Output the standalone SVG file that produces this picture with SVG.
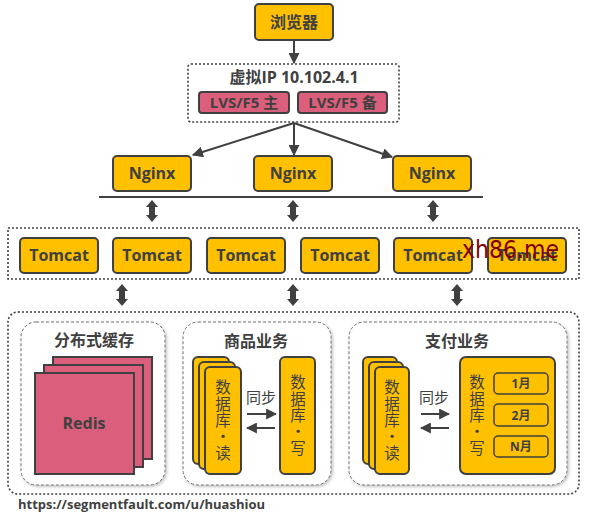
<svg xmlns="http://www.w3.org/2000/svg" width="589" height="515" viewBox="0 0 589 515">
<defs>
<style>
.y{fill:#FFC000;stroke:#404040;stroke-width:2}
.p{fill:#DB5F7C;stroke:#404040;stroke-width:2}
.t{font-family:"Open Sans","Noto Sans CJK SC",sans-serif;font-weight:bold;fill:#404040;text-anchor:middle}
.c{font-family:"Noto Sans CJK SC",sans-serif;fill:#404040;text-anchor:middle}
.v{font-family:"Noto Sans CJK SC",sans-serif;fill:#404040;text-anchor:middle;font-size:15.5px}
.dot{fill:none;stroke:#404040;stroke-width:1.6;stroke-dasharray:2 2}
.panel{fill:#fff;stroke:#707070;stroke-width:1;stroke-dasharray:3 2}
.ln{stroke:#404040;stroke-width:2;fill:none}
.da{fill:#404040}
</style>
<marker id="ah" viewBox="0 0 10 10" refX="9" refY="5" markerWidth="5.5" markerHeight="5.5" orient="auto" markerUnits="strokeWidth">
<path d="M0,0 L10,5 L0,10 z" fill="#404040"/>
</marker>
<filter id="sh" x="-10%" y="-10%" width="125%" height="125%">
<feDropShadow dx="1.5" dy="1.5" stdDeviation="1.5" flood-color="#000" flood-opacity="0.25"/>
</filter>
</defs>

<g id="browser">
<rect class="y" x="255" y="4" width="78" height="36" rx="4"/>
<text class="t" x="294" y="28" font-size="16">浏览器</text>
</g>

<g id="vip">
<rect class="dot" x="188" y="64" width="211" height="58" rx="3"/>
<text class="t" x="294" y="83" font-size="16">虚拟IP 10.102.4.1</text>
<g id="lvs-main">
<rect class="p" x="199" y="92" width="90" height="21" rx="3"/>
<text class="t" x="244" y="108" font-size="15">LVS/F5 主</text>
</g>
<g id="lvs-backup">
<rect class="p" x="298" y="92" width="89" height="21" rx="3"/>
<text class="t" x="342.5" y="108" font-size="15">LVS/F5 备</text>
</g>
</g>

<g id="nginx1"><rect class="y" x="113" y="156" width="78" height="35" rx="4"/><text class="t" x="152" y="179" font-size="16">Nginx</text></g>
<g id="nginx2"><rect class="y" x="254" y="156" width="78" height="35" rx="4"/><text class="t" x="293" y="179" font-size="16">Nginx</text></g>
<g id="nginx3"><rect class="y" x="393" y="156" width="78" height="35" rx="4"/><text class="t" x="432" y="179" font-size="16">Nginx</text></g>

<g id="tomcat-pool">
<rect class="dot" x="8" y="228" width="571" height="51"/>
</g>
<g id="tomcat1"><rect class="y" x="20" y="238" width="78" height="35" rx="4"/><text class="t" x="59" y="261" font-size="16">Tomcat</text></g>
<g id="tomcat2"><rect class="y" x="113" y="238" width="78" height="35" rx="4"/><text class="t" x="152" y="261" font-size="16">Tomcat</text></g>
<g id="tomcat3"><rect class="y" x="207" y="238" width="78" height="35" rx="4"/><text class="t" x="246" y="261" font-size="16">Tomcat</text></g>
<g id="tomcat4"><rect class="y" x="301" y="238" width="78" height="35" rx="4"/><text class="t" x="340" y="261" font-size="16">Tomcat</text></g>
<g id="tomcat5"><rect class="y" x="394" y="238" width="78" height="35" rx="4"/><text class="t" x="433" y="261" font-size="16">Tomcat</text></g>
<g id="tomcat6"><rect class="y" x="488" y="238" width="78" height="35" rx="4"/><text class="t" x="527" y="261" font-size="16">Tomcat</text></g>

<g id="backend">
<rect class="dot" x="8" y="312" width="571" height="182" rx="10"/>
</g>

<g id="cache">
<rect class="panel" x="21" y="322" width="144" height="163" rx="15" filter="url(#sh)"/>
<text class="c" x="94" y="346" font-size="16" font-weight="bold">分布式缓存</text>
<rect class="p" x="53" y="357" width="99" height="102"/>
<rect class="p" x="44" y="365" width="99" height="102"/>
<rect class="p" x="35" y="373" width="99" height="101"/>
<text class="t" x="84" y="429" font-size="16">Redis</text>
</g>

<g id="goods">
<rect class="panel" x="183" y="322" width="148" height="163" rx="15" filter="url(#sh)"/>
<text class="c" x="256" y="347" font-size="16" font-weight="bold">商品业务</text>
<rect class="y" x="193" y="357" width="36" height="107" rx="5"/>
<rect class="y" x="199" y="362" width="36" height="107" rx="5"/>
<rect class="y" x="205" y="367" width="36" height="107" rx="5"/>
<text class="v"><tspan x="223" y="393">数</tspan><tspan x="223" y="409.5">据</tspan><tspan x="223" y="426">库</tspan><tspan x="223" y="442">•</tspan><tspan x="223" y="459">读</tspan></text>
<rect class="y" x="280" y="357" width="35" height="117" rx="5"/>
<text class="v"><tspan x="298" y="388">数</tspan><tspan x="298" y="404.5">据</tspan><tspan x="298" y="421">库</tspan><tspan x="298" y="437">•</tspan><tspan x="298" y="454">写</tspan></text>
<text class="c" x="261" y="403" font-size="15">同步</text>
</g>

<g id="pay">
<rect class="panel" x="349" y="322" width="218" height="163" rx="15" filter="url(#sh)"/>
<text class="c" x="457" y="347" font-size="16" font-weight="bold">支付业务</text>
<rect class="y" x="363" y="357" width="34" height="107" rx="5"/>
<rect class="y" x="369" y="362" width="34" height="107" rx="5"/>
<rect class="y" x="375" y="367" width="34" height="107" rx="5"/>
<text class="v"><tspan x="392" y="393">数</tspan><tspan x="392" y="409.5">据</tspan><tspan x="392" y="426">库</tspan><tspan x="392" y="442">•</tspan><tspan x="392" y="459">读</tspan></text>
<rect class="y" x="460" y="357" width="95" height="117" rx="6"/>
<text class="v"><tspan x="477" y="388">数</tspan><tspan x="477" y="404.5">据</tspan><tspan x="477" y="421">库</tspan><tspan x="477" y="437">•</tspan><tspan x="477" y="454">写</tspan></text>
<text class="c" x="434" y="403" font-size="15">同步</text>
<g id="m1"><rect class="y" x="494" y="373" width="54" height="21" rx="4" style="stroke-width:1.5"/><text class="t" x="521" y="388" font-size="12">1月</text></g>
<g id="m2"><rect class="y" x="494" y="404" width="54" height="22" rx="4" style="stroke-width:1.5"/><text class="t" x="521" y="420" font-size="12">2月</text></g>
<g id="mn"><rect class="y" x="494" y="436" width="54" height="21" rx="4" style="stroke-width:1.5"/><text class="t" x="521" y="451" font-size="12">N月</text></g>
</g>

<g id="connectors">
<line class="ln" x1="294" y1="40" x2="294" y2="63" marker-end="url(#ah)"/>
<line class="ln" x1="294" y1="123" x2="193" y2="155" marker-end="url(#ah)"/>
<line class="ln" x1="294" y1="123" x2="294" y2="155" marker-end="url(#ah)"/>
<line class="ln" x1="294" y1="123" x2="392" y2="157" marker-end="url(#ah)"/>
<line class="ln" x1="99" y1="197" x2="483" y2="197"/>
<polygon class="da" points="152,200 158,207 155,207 155,215 158,215 152,222 146,215 149,215 149,207 146,207"/>
<polygon class="da" points="293,200 299,207 296,207 296,215 299,215 293,222 287,215 290,215 290,207 287,207"/>
<polygon class="da" points="433,200 439,207 436,207 436,215 439,215 433,222 427,215 430,215 430,207 427,207"/>
<polygon class="da" points="122,284 128,291 125,291 125,299 128,299 122,306 116,299 119,299 119,291 116,291"/>
<polygon class="da" points="293,284 299,291 296,291 296,299 299,299 293,306 287,299 290,299 290,291 287,291"/>
<polygon class="da" points="457,284 463,291 460,291 460,299 463,299 457,306 451,299 454,299 454,291 451,291"/>
<line class="ln" x1="247" y1="414" x2="276" y2="414" marker-end="url(#ah)"/>
<line class="ln" x1="275" y1="428" x2="247" y2="428" marker-end="url(#ah)"/>
<line class="ln" x1="421" y1="414" x2="449" y2="414" marker-end="url(#ah)"/>
<line class="ln" x1="449" y1="428" x2="421" y2="428" marker-end="url(#ah)"/>
</g>

<text x="462" y="258" font-family="'DejaVu Sans',sans-serif" font-size="24" fill="#800000" textLength="97" lengthAdjust="spacingAndGlyphs">xh86.me</text>
<text x="18" y="509" font-family="'Open Sans',sans-serif" font-weight="bold" font-size="13" fill="#404040" textLength="247" lengthAdjust="spacingAndGlyphs">https://segmentfault.com/u/huashiou</text>
</svg>
